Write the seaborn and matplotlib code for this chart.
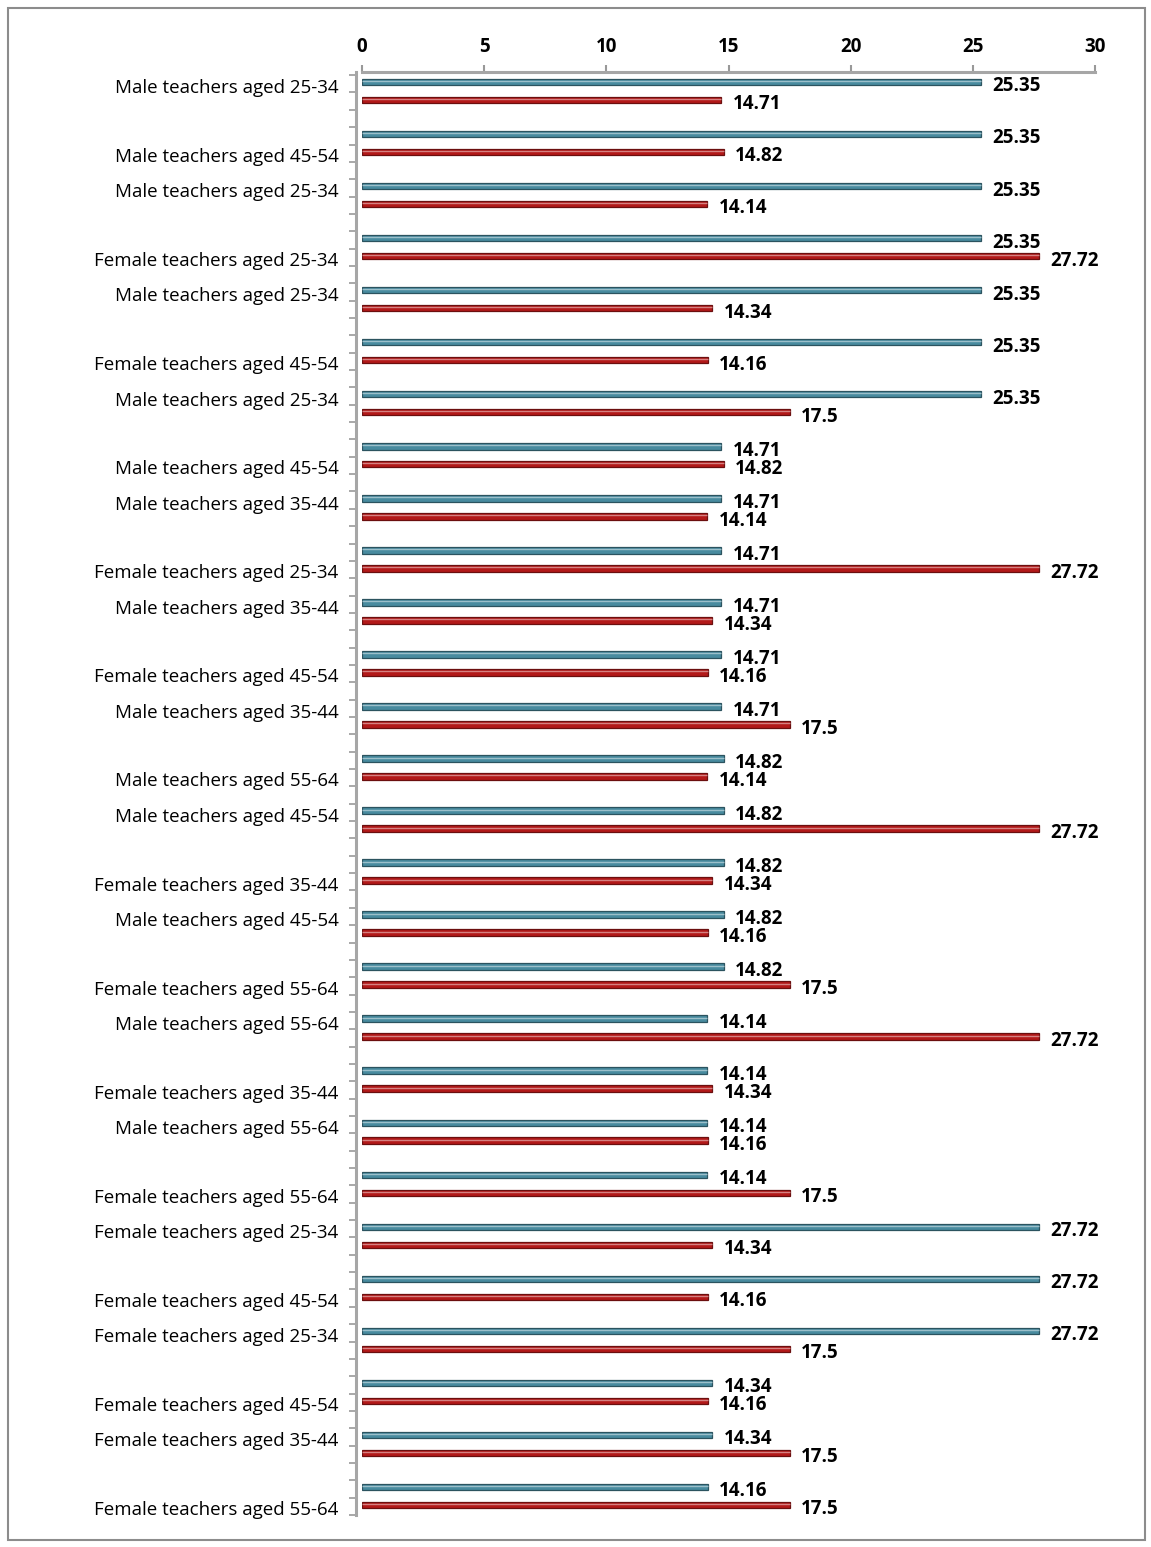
import numpy as np
import pandas as pd
import matplotlib
matplotlib.use("Agg")
import matplotlib.pyplot as plt
from matplotlib.patches import Rectangle
from matplotlib.ticker import FixedLocator
import seaborn as sns

# Row labels (top to bottom) and the two series values for each row
labels = [
    "Male teachers aged 25-34", "Male teachers aged 45-54", "Male teachers aged 25-34",
    "Female teachers aged 25-34", "Male teachers aged 25-34", "Female teachers aged 45-54",
    "Male teachers aged 25-34", "Male teachers aged 45-54", "Male teachers aged 35-44",
    "Female teachers aged 25-34", "Male teachers aged 35-44", "Female teachers aged 45-54",
    "Male teachers aged 35-44", "Male teachers aged 55-64", "Male teachers aged 45-54",
    "Female teachers aged 35-44", "Male teachers aged 45-54", "Female teachers aged 55-64",
    "Male teachers aged 55-64", "Female teachers aged 35-44", "Male teachers aged 55-64",
    "Female teachers aged 55-64", "Female teachers aged 25-34", "Female teachers aged 45-54",
    "Female teachers aged 25-34", "Female teachers aged 45-54", "Female teachers aged 35-44",
    "Female teachers aged 55-64",
]
series_a = [25.35, 25.35, 25.35, 25.35, 25.35, 25.35, 25.35,
            14.71, 14.71, 14.71, 14.71, 14.71, 14.71,
            14.82, 14.82, 14.82, 14.82, 14.82,
            14.14, 14.14, 14.14, 14.14,
            27.72, 27.72, 27.72,
            14.34, 14.34,
            14.16]
series_b = [14.71, 14.82, 14.14, 27.72, 14.34, 14.16, 17.5,
            14.82, 14.14, 27.72, 14.34, 14.16, 17.5,
            14.14, 27.72, 14.34, 14.16, 17.5,
            27.72, 14.34, 14.16, 17.5,
            14.34, 14.16, 17.5,
            14.16, 17.5,
            17.5]
x_ticks = [0, 5, 10, 15, 20, 25, 30]

n = len(labels)
rows = [str(i) for i in range(n)]
df = pd.DataFrame({
    "row": rows * 2,
    "value": series_a + series_b,
    "series": ["A"] * n + ["B"] * n,
})

sns.set_theme(style="white")
plt.rcParams["font.family"] = ["Open Sans", "DejaVu Sans"]

W, H = 1151, 1547
fig = plt.figure(figsize=(W / 100, H / 100), dpi=100)
ax = fig.add_axes([362 / W, 1 - 1515 / H, 733 / W, 1443 / H])

sns.barplot(data=df, y="row", x="value", hue="series", order=rows,
            orient="h", palette={"A": "#3A93AD", "B": "#CC0000"},
            width=0.69, gap=0.64, legend=False, ax=ax,
            edgecolor="none", linewidth=0)

# cylinder-like shading on each bar
for bar in ax.patches:
    fc = bar.get_facecolor()
    dark = tuple(c * 0.6 for c in fc[:3])
    bar.set_edgecolor(dark)
    bar.set_linewidth(0.9)
    x0, y0 = bar.get_x(), bar.get_y()
    w, h = bar.get_width(), bar.get_height()
    light = tuple(min(1, c * 0.55 + 0.45) for c in fc[:3])
    ax.plot([x0, x0 + w], [y0 + h * 0.35, y0 + h * 0.35], color=light,
            lw=1.0, solid_capstyle="butt", zorder=3)

# value labels, nudged a little below the bar centre
for cont in ax.containers:
    texts = ax.bar_label(cont, fmt="%g", padding=8, fontsize=13.5,
                         fontweight="bold", color="black")
    for t in texts:
        dx, dy = t.xyann
        t.xyann = (dx, dy - 3.2)

ax.set_xlim(0, 30)
ax.set_ylim(n - 1 + 0.365, -0.365)
ax.xaxis.tick_top()
ax.set_xticks(x_ticks)
ax.set_xticklabels([str(t) for t in x_ticks], fontweight="bold")
ax.tick_params(axis="x", which="major", direction="out", length=5, width=1.5,
               color="#999999", pad=6, bottom=False, top=True, labelsize=13.5,
               labelcolor="black")

# category labels sit slightly above/below the row centre alternately
label_pos = [i - 0.09 if i % 2 == 0 else i + 0.23 for i in range(n)]
ax.yaxis.set_major_locator(FixedLocator(label_pos))
ax.set_yticklabels(labels)
ax.tick_params(axis="y", which="major", length=0, pad=13, labelsize=13.5,
               labelcolor="black")
minor = np.linspace(-0.365 + 0.06, n - 1 + 0.365, 84)
ax.yaxis.set_minor_locator(FixedLocator(minor))
ax.tick_params(axis="y", which="minor", direction="out", length=5, width=1.2,
               color="#999999", left=True)

ax.set_xlabel("")
ax.set_ylabel("")
for side in ["right", "bottom"]:
    ax.spines[side].set_visible(False)
for side in ["top", "left"]:
    ax.spines[side].set_color("#A6A6A6")
    ax.spines[side].set_linewidth(2.2)
ax.spines["left"].set_position(("outward", 4))

fig.patches.append(Rectangle((8 / W, 1 - 1540 / H), 1137 / W, 1532 / H,
                             transform=fig.transFigure, fill=False,
                             edgecolor="#8C8C8C", linewidth=1.5))

fig.savefig("out.png", dpi=100, facecolor="white")
